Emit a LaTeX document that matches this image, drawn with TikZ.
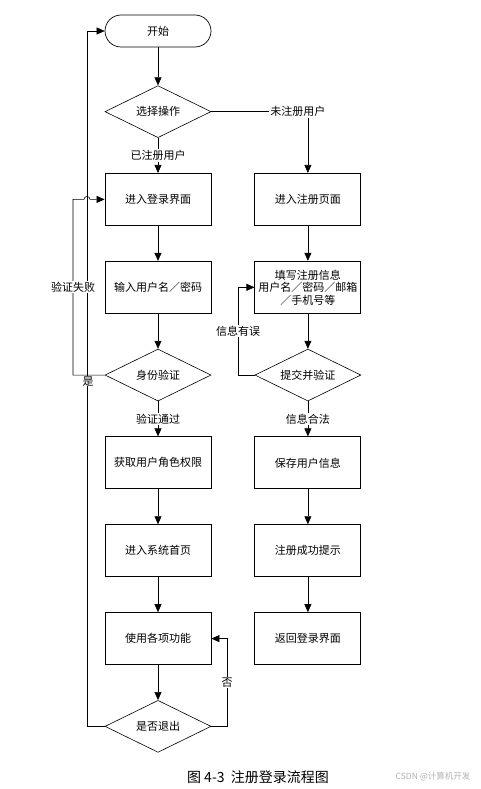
\documentclass[tikz,border=0pt]{standalone}
\usepackage{fontspec}
\setmainfont{Noto Sans CJK SC}
\usetikzlibrary{arrows.meta, calc, positioning, shapes.geometric}
\tikzset{LoginFlow/.style={
    x = 1pt, y = -1pt,
    node distance = 35pt and 43pt,
    font = \fontsize{11}{12.5}\selectfont,
    base/.style = {draw, line width=0.9pt, minimum width=106pt, minimum height=52pt, align=center, inner sep=2pt},
    process/.style = {base},
    terminal/.style = {base, rounded corners=16pt, minimum height=32pt, line width=0.7pt},
    decision/.style = {diamond, draw, line width=0.6pt, aspect=2, minimum width=106pt, minimum height=52pt, inner sep=0pt, align=center},
    tag/.style = {fill=white, inner sep=1pt},
    flow/.style = {line width=0.6pt, -{Triangle[length=8pt, width=7pt]}}
}}

\begin{document}
\begin{tikzpicture}[LoginFlow]
    \useasboundingbox (0,0) rectangle (480,789);
    % left column
    \node [terminal] (start) at (158,31) {开始};
    \node [decision, below=38pt of start] (choose) {选择操作};
    \node [process, below=of choose] (login) {进入登录界面};
    \node [process, below=of login] (input) {输入用户名／密码};
    \node [decision, below=of input] (auth) {身份验证};
    \node [process, below=of auth] (role) {获取用户角色权限};
    \node [process, below=of role] (home) {进入系统首页};
    \node [process, below=of home] (use) {使用各项功能};
    \node [decision, below=of use] (exit) {是否退出};
    % right column
    \node [process, right=of login] (reg) {进入注册页面};
    \node [process, below=of reg] (info) {填写注册信息\\用户名／密码／邮箱\\／手机号等};
    \node [decision, below=of info] (submit) {提交并验证};
    \node [process, below=of submit] (save) {保存用户信息};
    \node [process, below=of save] (done) {注册成功提示};
    \node [process, below=of done] (relogin) {返回登录界面};

    % loop lines
    \coordinate (back) at (87,0);
    \coordinate (fail) at (73,0);
    \coordinate (nox) at (227,0);
    \coordinate (err) at (238,0);

    \draw [flow]
    (start) edge (choose)
    (choose) edge node [tag] (oldtag) {已注册用户} (login)
    (login) edge (input)
    (input) edge (auth)
    (auth) edge node [tag] (oktag) {验证通过} (role)
    (role) edge (home)
    (home) edge (use)
    (use) edge (exit)
    (reg) edge (info)
    (info) edge (submit)
    (submit) edge node [tag] (legaltag) {信息合法} (save)
    (save) edge (done)
    (done) edge (relogin);

    \draw [flow] (choose.east) -| node [tag, xshift=-10pt] (newtag) {未注册用户} (reg.north);
    \draw [flow] (exit.west) -- (exit.west -| back) |- (start.west);
    \draw [flow] (auth.west) -- (auth.west -| fail) |- ($(login.west -| back)+(-3pt,0)$)
        arc [start angle=180, end angle=0, radius=3pt] -- (login.west);
    \node [tag] (failtag) at (fail |- input) {验证失败};
    \node [tag, inner sep=0.5pt] (yestag) at ($(auth.west -| back)+(1pt,-6pt)$) {是};
    \draw [flow] (exit.east) -- (exit.east -| nox) |- node [tag, pos=0.25] (notag) {否} (use.east);
    \draw [flow] (submit.west) -- (submit.west -| err) |- node [tag, pos=0.25] (errtag) {信息有误} (info.west);

    % caption
    \node [font=\fontsize{14}{16}\selectfont] (caption) at (258,777) {图 4-3\ \ 注册登录流程图};
    \node [font=\fontsize{8.5}{10}\selectfont, text=black!30] (watermark) at (433,777) {CSDN @计算机开发};
\end{tikzpicture}
\end{document}
